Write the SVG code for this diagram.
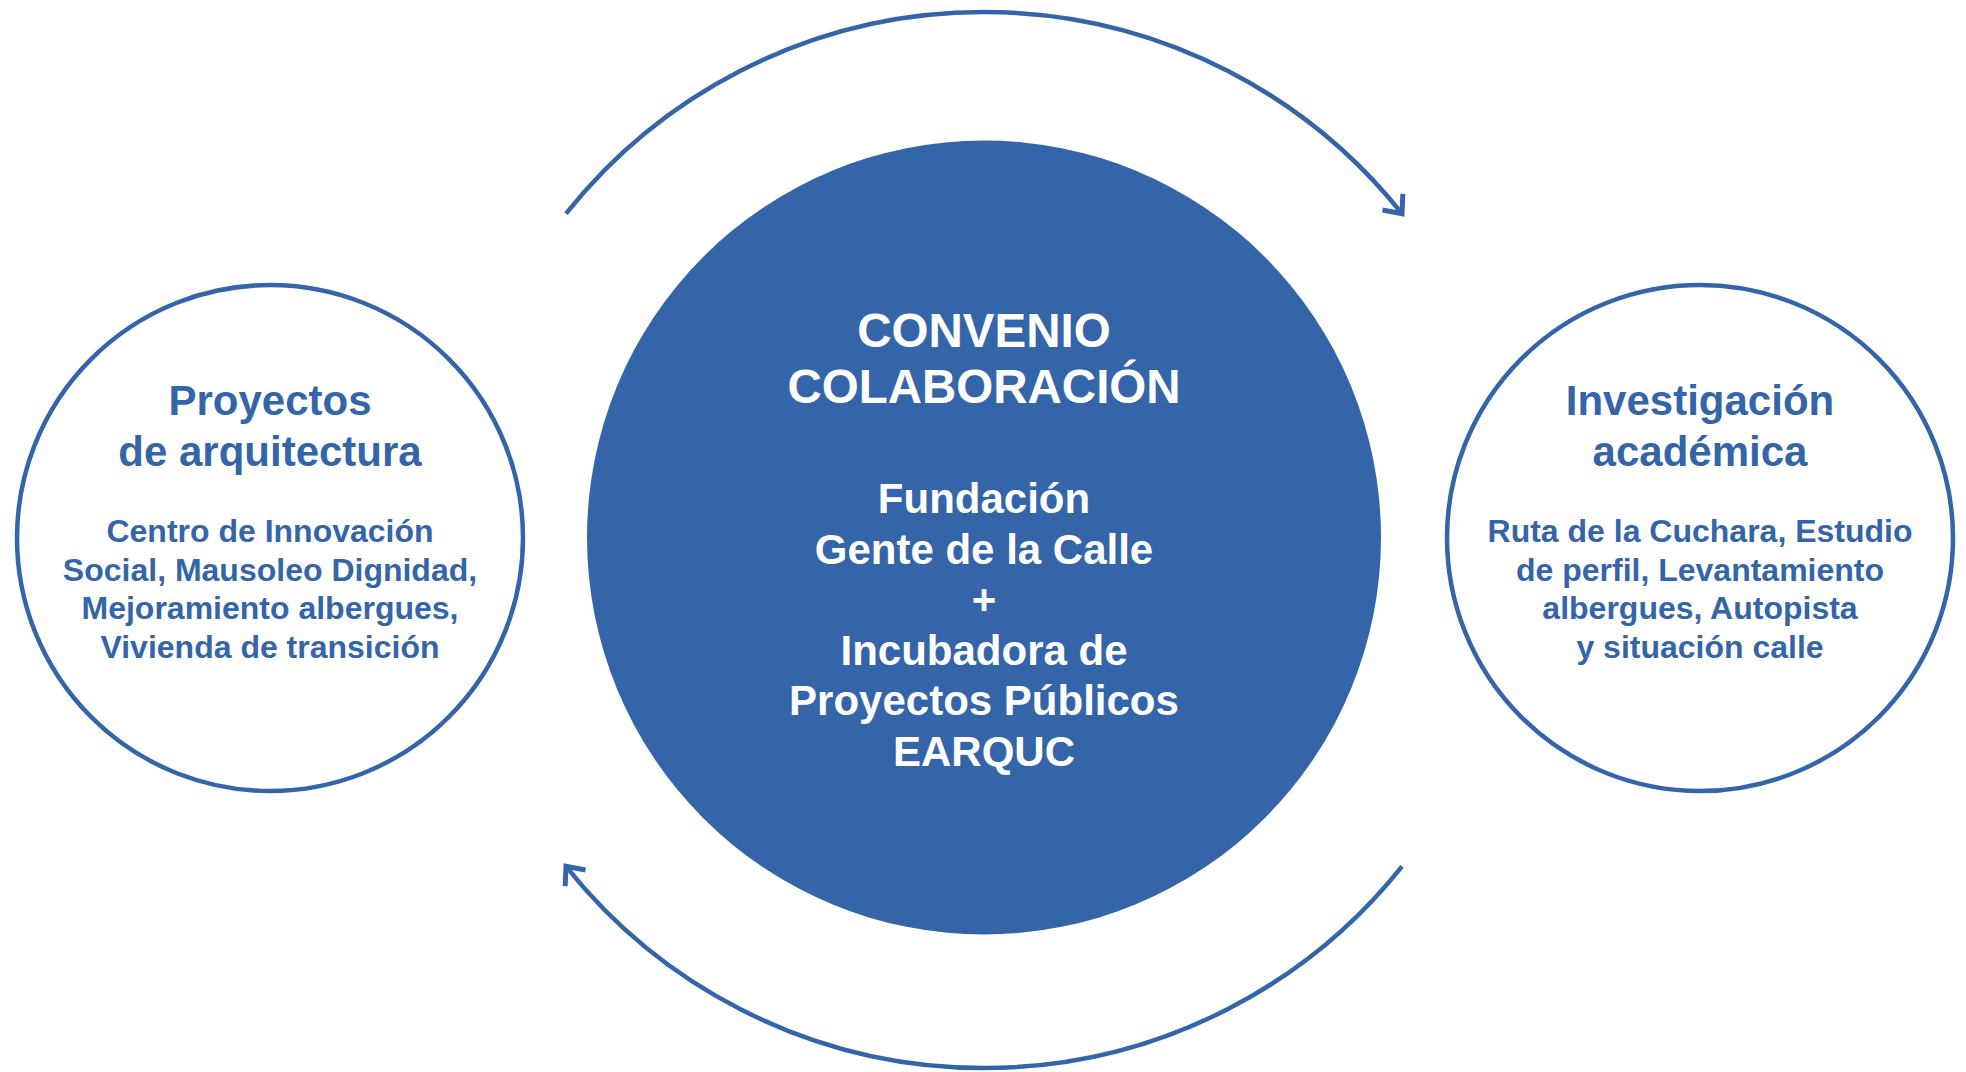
<svg xmlns="http://www.w3.org/2000/svg" width="1966" height="1072" viewBox="0 0 1966 1072">
  <defs>
    <style>
      text { font-family: "Liberation Sans", Arial, sans-serif; font-weight: bold; text-anchor: middle; }
      .side { fill: #ffffff; stroke: #3465a9; stroke-width: 4.5; }
      .core { fill: #3465a9; }
      .white { fill: #ffffff; }
      .blue { fill: #3465a9; }
      .t47 { font-size: 47.5px; }
      .t42 { font-size: 42px; }
      .t32 { font-size: 32px; }
      .conn { fill: none; stroke: #3465a9; stroke-width: 4.5; marker-end: url(#arrow); }
    </style>
    <marker id="arrow" markerUnits="userSpaceOnUse" viewBox="-20 -16 24 32" refX="0" refY="0" markerWidth="24" markerHeight="32" orient="auto">
      <path d="M -15 -13 L 0 0 L -15 13" fill="none" stroke="#3465a9" stroke-width="5"/>
    </marker>
  </defs>

  <g id="connectors">
    <path class="conn" d="M 566 213.7 A 534 534 0 0 1 1402 213.7"/>
    <path class="conn" d="M 1402 866.3 A 534 534 0 0 1 566 866.3"/>
  </g>

  <g id="node-convenio">
    <circle class="core" cx="984" cy="537.5" r="397"/>
    <text class="white t47" x="984" y="346.5">CONVENIO</text>
    <text class="white t47" x="984" y="403">COLABORACIÓN</text>
    <text class="white t42" x="984" y="513">Fundación</text>
    <text class="white t42" x="984" y="563.5">Gente de la Calle</text>
    <text class="white t42" x="984" y="614">+</text>
    <text class="white t42" x="984" y="664.5">Incubadora de</text>
    <text class="white t42" x="984" y="715">Proyectos Públicos</text>
    <text class="white t42" x="984" y="765.5">EARQUC</text>
  </g>

  <g id="node-proyectos">
    <circle class="side" cx="270" cy="538" r="253"/>
    <text class="blue t42" x="270" y="414.5">Proyectos</text>
    <text class="blue t42" x="270" y="466">de arquitectura</text>
    <text class="blue t32" x="270" y="542">Centro de Innovación</text>
    <text class="blue t32" x="270" y="580.5">Social, Mausoleo Dignidad,</text>
    <text class="blue t32" x="270" y="619">Mejoramiento albergues,</text>
    <text class="blue t32" x="270" y="657.5">Vivienda de transición</text>
  </g>

  <g id="node-investigacion">
    <circle class="side" cx="1700" cy="538" r="253"/>
    <text class="blue t42" x="1700" y="414.5">Investigación</text>
    <text class="blue t42" x="1700" y="466">académica</text>
    <text class="blue t32" x="1700" y="542">Ruta de la Cuchara, Estudio</text>
    <text class="blue t32" x="1700" y="580.5">de perfil, Levantamiento</text>
    <text class="blue t32" x="1700" y="619">albergues, Autopista</text>
    <text class="blue t32" x="1700" y="657.5">y situación calle</text>
  </g>
</svg>
